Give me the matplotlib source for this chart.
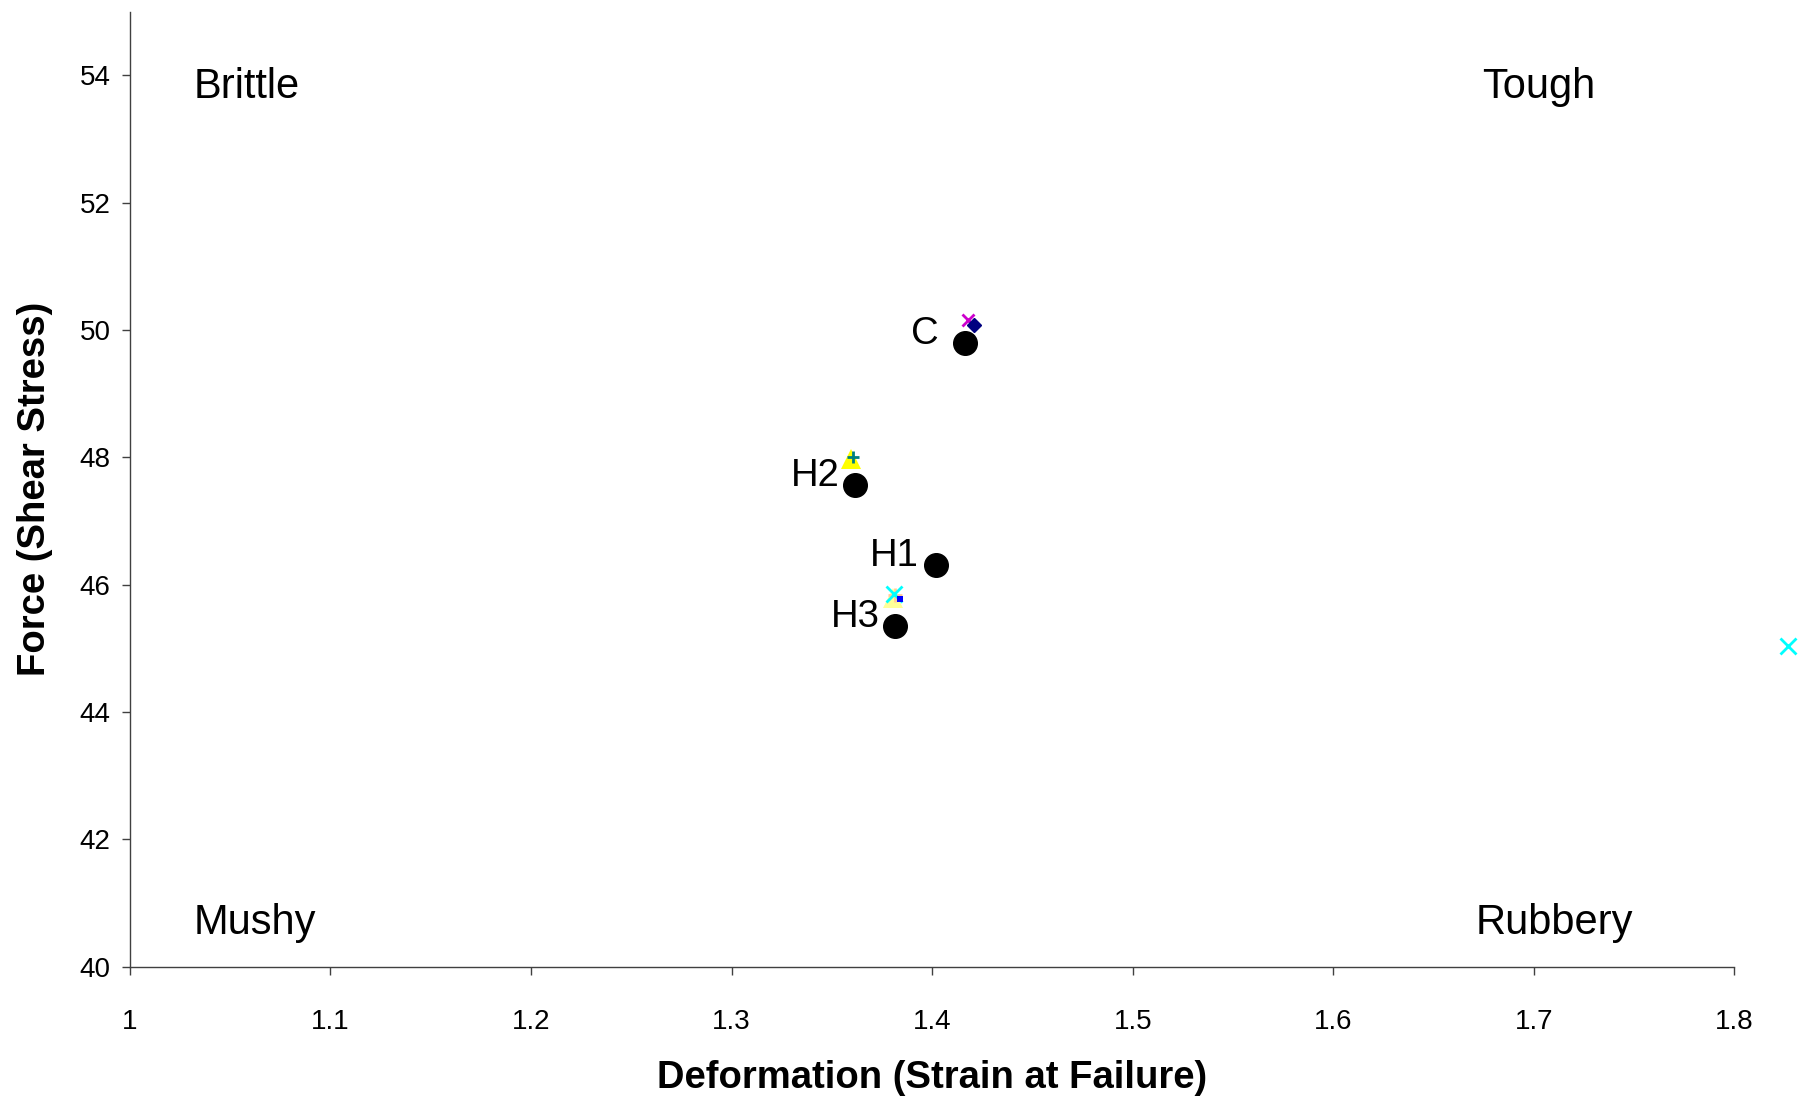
import matplotlib
matplotlib.use("Agg")
import matplotlib.pyplot as plt

plt.rcParams['font.family'] = ['Liberation Sans', 'DejaVu Sans']

# ---- data ----
samples = ["C", "H2", "H1", "H3"]
strain = [1.4166, 1.3617, 1.4017, 1.3817]
stress = [49.79, 47.56, 46.31, 45.35]

# overlapping small series markers (Excel-like)
navy_diamond_x = [1.4209]
navy_diamond_y = [50.08]
magenta_x_x = [1.4179]
magenta_x_y = [50.15]
yellow_tri_x = [1.3598, 1.3807]
yellow_tri_y = [47.98, 45.79]
teal_plus_x = [1.3606]
teal_plus_y = [48.01]
peach_plus_x = [1.3814]
peach_plus_y = [45.83]
cyan_x_x = [1.3812, 1.8267]
cyan_x_y = [45.86, 45.03]
blue_sq_x = [1.3839]
blue_sq_y = [45.77]

quadrants = ["Brittle", "Tough", "Mushy", "Rubbery"]
quad_x = [1.032, 1.674, 1.032, 1.671]
quad_y = [53.81, 53.81, 40.69, 40.69]

xticks = [1.0, 1.1, 1.2, 1.3, 1.4, 1.5, 1.6, 1.7, 1.8]
xticklabels = ["1", "1.1", "1.2", "1.3", "1.4", "1.5", "1.6", "1.7", "1.8"]
yticks = [40, 42, 44, 46, 48, 50, 52, 54]

# ---- figure ----
fig = plt.figure(figsize=(18, 10.96), dpi=100)
ax = fig.add_axes([0.0721, 0.1180, 0.9636 - 0.0721, 0.9895 - 0.1180])

ax.set_xlim(1.0, 1.8)
ax.set_ylim(40, 55)

ax.plot(strain, stress, 'o', color='black', markersize=17, zorder=3, clip_on=False)

ax.plot(magenta_x_x, magenta_x_y, 'x', color='#CC00CC', markersize=8, mew=2, zorder=4, clip_on=False)
ax.plot(navy_diamond_x, navy_diamond_y, 'D', color='#000080', markersize=7, zorder=5, clip_on=False)
ax.plot(yellow_tri_x[:1], yellow_tri_y[:1], '^', color='#FFFF00', markersize=14, mew=0, zorder=4, clip_on=False)
ax.plot(yellow_tri_x[1:], yellow_tri_y[1:], '^', color='#FFFF99', markersize=14, mew=0, zorder=4, clip_on=False)
ax.plot(teal_plus_x, teal_plus_y, '+', color='#008080', markersize=9, mew=2, zorder=5, clip_on=False)
ax.plot(peach_plus_x, peach_plus_y, '+', color='#FFCC99', markersize=10, mew=2, zorder=5, clip_on=False)
ax.plot(cyan_x_x, cyan_x_y, 'x', color='#00FFFF', markersize=11, mew=2, zorder=6, clip_on=False)
ax.plot(blue_sq_x, blue_sq_y, 's', color='#0000FF', markersize=5, mew=0, zorder=6, clip_on=False)

label_dx = {"C": -19, "H2": -11, "H1": -12, "H3": -11}
for name, x, y in zip(samples, strain, stress):
    ax.annotate(name, xy=(x, y), xytext=(label_dx[name], 6.5), textcoords='offset points',
                ha='right', va='center', fontsize=27.5, color='black')

for name, x, y in zip(quadrants, quad_x, quad_y):
    ax.text(x, y, name, ha='left', va='center', fontsize=30, color='black')

for side in ['top', 'right']:
    ax.spines[side].set_visible(False)
for side in ['left', 'bottom']:
    ax.spines[side].set_color('#404040')
    ax.spines[side].set_linewidth(1.0)

ax.set_xticks(xticks)
ax.set_xticklabels(xticklabels)
ax.set_yticks(yticks)
ax.tick_params(axis='x', direction='out', length=5.8, width=1.0, color='#404040',
               labelsize=20, pad=24.5)
ax.tick_params(axis='y', direction='out', length=5.8, width=1.0, color='#404040',
               labelsize=20, pad=8)

ax.set_xlabel("Deformation (Strain at Failure)", fontsize=27.5, fontweight='bold', labelpad=18.5)
ax.set_ylabel("Force (Shear Stress)", fontsize=27.5, fontweight='bold', labelpad=19)

fig.savefig("out.png", dpi=100)
